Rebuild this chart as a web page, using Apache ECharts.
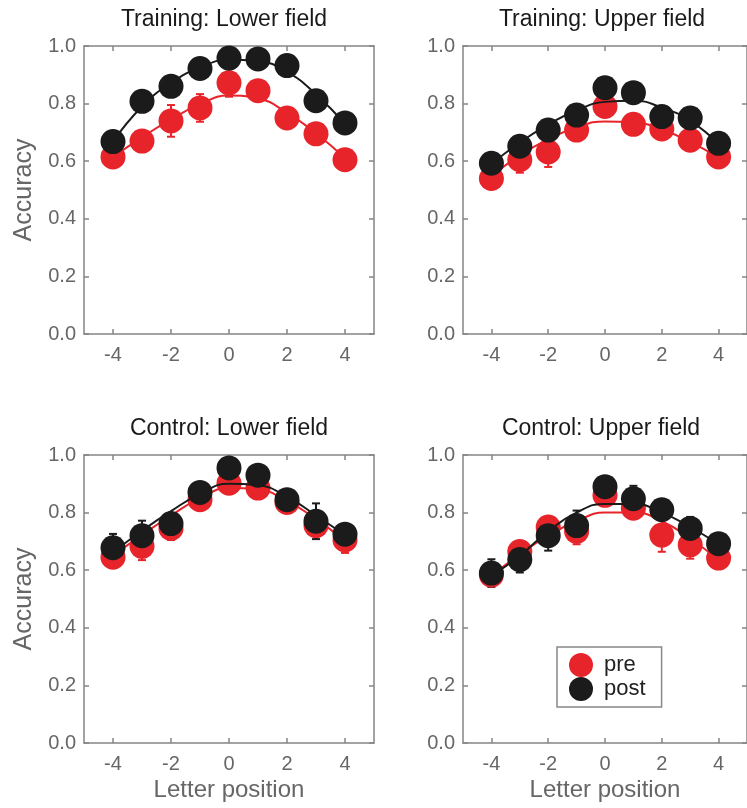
<!DOCTYPE html>
<html><head><meta charset="utf-8">
<script src="https://cdn.jsdelivr.net/npm/echarts@6/dist/echarts.min.js"></script>
<style>html,body{margin:0;padding:0;background:#fff}#c{width:747px;height:808px}</style>
</head><body><div id="c"></div>
<script>
const positions = [-4, -3, -2, -1, 0, 1, 2, 3, 4];
const xTicks = [-4, -2, 0, 2, 4];
const panelTitles = ['Training: Lower field', 'Training: Upper field', 'Control: Lower field', 'Control: Upper field'];

// Training: Lower field
const tlPre  = [0.615, 0.670, 0.740, 0.785, 0.872, 0.845, 0.750, 0.695, 0.605];
const tlPost = [0.668, 0.808, 0.860, 0.922, 0.958, 0.955, 0.932, 0.810, 0.733];
const tlPreErr  = [0.015, 0.020, 0.055, 0.048, 0.048, 0.015, 0.015, 0.015, 0.015];
const tlPostErr = [0.015, 0.015, 0.015, 0.015, 0.015, 0.015, 0.015, 0.035, 0.015];
const tlPreFit  = [0.615, 0.683, 0.745, 0.798, 0.828, 0.818, 0.768, 0.697, 0.610];
const tlPostFit = [0.668, 0.790, 0.872, 0.925, 0.952, 0.947, 0.910, 0.832, 0.730];

// Training: Upper field
const tuPre  = [0.540, 0.605, 0.632, 0.708, 0.790, 0.728, 0.712, 0.673, 0.615];
const tuPost = [0.593, 0.652, 0.708, 0.760, 0.855, 0.838, 0.755, 0.750, 0.662];
const tuPreErr  = [0.015, 0.045, 0.052, 0.015, 0.015, 0.015, 0.015, 0.015, 0.015];
const tuPostErr = [0.015, 0.015, 0.015, 0.015, 0.015, 0.015, 0.015, 0.015, 0.015];
const tuPreFit  = [0.548, 0.620, 0.676, 0.718, 0.738, 0.735, 0.710, 0.667, 0.612];
const tuPostFit = [0.590, 0.665, 0.727, 0.776, 0.806, 0.810, 0.786, 0.740, 0.660];

// Control: Lower field
const clPre  = [0.645, 0.683, 0.745, 0.845, 0.902, 0.885, 0.835, 0.755, 0.705];
const clPost = [0.678, 0.720, 0.762, 0.870, 0.955, 0.930, 0.845, 0.770, 0.725];
const clPreErr  = [0.020, 0.048, 0.040, 0.015, 0.015, 0.015, 0.015, 0.015, 0.045];
const clPostErr = [0.048, 0.052, 0.015, 0.015, 0.015, 0.015, 0.015, 0.062, 0.015];
const clPreFit  = [0.652, 0.722, 0.790, 0.850, 0.885, 0.880, 0.840, 0.778, 0.700];
const clPostFit = [0.662, 0.737, 0.805, 0.865, 0.900, 0.895, 0.855, 0.790, 0.722];

// Control: Upper field
const cuPre  = [0.583, 0.665, 0.750, 0.735, 0.860, 0.815, 0.722, 0.688, 0.642];
const cuPost = [0.590, 0.637, 0.720, 0.755, 0.890, 0.848, 0.810, 0.745, 0.692];
const cuPreErr  = [0.015, 0.015, 0.015, 0.045, 0.015, 0.015, 0.058, 0.048, 0.015];
const cuPostErr = [0.048, 0.045, 0.052, 0.052, 0.015, 0.045, 0.015, 0.040, 0.015];
const cuPreFit  = [0.580, 0.655, 0.720, 0.770, 0.800, 0.800, 0.770, 0.710, 0.635];
const cuPostFit = [0.580, 0.650, 0.735, 0.800, 0.830, 0.830, 0.800, 0.750, 0.690];

const yTickLabels = ['0.0', '0.2', '0.4', '0.6', '0.8', '1.0'];

const panels = [
  {pre: tlPre, post: tlPost, preErr: tlPreErr, postErr: tlPostErr, preFit: tlPreFit, postFit: tlPostFit},
  {pre: tuPre, post: tuPost, preErr: tuPreErr, postErr: tuPostErr, preFit: tuPreFit, postFit: tuPostFit},
  {pre: clPre, post: clPost, preErr: clPreErr, postErr: clPostErr, preFit: clPreFit, postFit: clPostFit},
  {pre: cuPre, post: cuPost, preErr: cuPreErr, postErr: cuPostErr, preFit: cuPreFit, postFit: cuPostFit}
];

const RED = '#e8242b', BLACK = '#1b1b1b', FRAME = '#858585', LABEL = '#666';
const FONT = 'Liberation Sans, Arial, sans-serif';
const gridPos = [
  {left: 84, top: 46, width: 290, height: 288},
  {left: 463, top: 46, width: 289, height: 288},
  {left: 84, top: 455, width: 290, height: 288},
  {left: 463, top: 455, width: 289, height: 288}
];
const titleCenters = [224, 602, 229, 601];

const chart = echarts.init(document.getElementById('c'), null, {renderer: 'canvas'});
const xAxes = [], yAxes = [], series = [], titles = [];
const lineStyleAx = {show: true, onZero: false, lineStyle: {color: FRAME, width: 1.5}};

function errSeries(i, vals, errs, color, name) {
  return {
    type: 'custom', name: name + 'err', xAxisIndex: 2 * i, yAxisIndex: 2 * i, z: 2,
    data: positions.map((p, k) => [p, vals[k] - errs[k], vals[k] + errs[k]]),
    encode: {x: 0, y: [1, 2]},
    renderItem: (params, api) => {
      const x = api.value(0), lo = api.value(1), hi = api.value(2);
      const a = api.coord([x, hi]), b = api.coord([x, lo]);
      const w = 4;
      const st = {stroke: color, lineWidth: 2};
      return {type: 'group', children: [
        {type: 'line', shape: {x1: a[0], y1: a[1], x2: b[0], y2: b[1]}, style: st},
        {type: 'line', shape: {x1: a[0] - w, y1: a[1], x2: a[0] + w, y2: a[1]}, style: st},
        {type: 'line', shape: {x1: b[0] - w, y1: b[1], x2: b[0] + w, y2: b[1]}, style: st}
      ]};
    }
  };
}

panels.forEach((pd, i) => {
  const g = gridPos[i];
  const bottomRow = i >= 2, leftCol = i % 2 === 0;
  titles.push({text: panelTitles[i], left: titleCenters[i], top: g.top - 38, textAlign: 'center', padding: 0,
    textStyle: {fontFamily: FONT, fontSize: 23, fontWeight: 'normal', color: '#1a1a1a'}});
  xAxes.push({
    gridIndex: i, type: 'value', min: -5, max: 5, position: 'bottom',
    axisLine: lineStyleAx, splitLine: {show: false},
    axisTick: {show: true, inside: true, length: 5, customValues: xTicks, lineStyle: {color: FRAME, width: 1.5}},
    axisLabel: {show: true, customValues: xTicks, color: LABEL, fontSize: 20, margin: 11, fontFamily: FONT},
    name: bottomRow ? 'Letter position' : '', nameLocation: 'middle', nameGap: 35,
    nameTextStyle: {fontSize: 24, color: LABEL, fontFamily: FONT}
  });
  xAxes.push({
    gridIndex: i, type: 'value', min: -5, max: 5, position: 'top',
    axisLine: lineStyleAx, splitLine: {show: false},
    axisTick: {show: true, inside: true, length: 5, customValues: xTicks, lineStyle: {color: FRAME, width: 1.5}},
    axisLabel: {show: false}
  });
  yAxes.push({
    gridIndex: i, type: 'value', min: 0, max: 1, interval: 0.2, position: 'left',
    axisLine: lineStyleAx, splitLine: {show: false},
    axisTick: {show: true, inside: true, length: 5, lineStyle: {color: FRAME, width: 1.5}},
    axisLabel: {color: LABEL, fontSize: 20, margin: 8, fontFamily: FONT,
      formatter: v => yTickLabels[Math.round(v * 5)]},
    name: leftCol ? 'Accuracy' : '', nameLocation: 'middle', nameGap: 47, nameRotate: 90,
    nameTextStyle: {fontSize: 25, color: LABEL, fontFamily: FONT}
  });
  yAxes.push({
    gridIndex: i, type: 'value', min: 0, max: 1, interval: 0.2, position: 'right',
    axisLine: lineStyleAx, splitLine: {show: false},
    axisTick: {show: true, inside: true, length: 5, lineStyle: {color: FRAME, width: 1.5}},
    axisLabel: {show: false}
  });
  series.push(errSeries(i, pd.pre, pd.preErr, RED, 'pre'));
  series.push({type: 'scatter', name: 'pre', xAxisIndex: 2 * i, yAxisIndex: 2 * i, z: 3,
    symbolSize: 25, itemStyle: {color: RED, opacity: 1}, data: positions.map((p, k) => [p, pd.pre[k]])});
  series.push({type: 'line', name: 'preFit', xAxisIndex: 2 * i, yAxisIndex: 2 * i, z: 4, smooth: true,
    showSymbol: false, symbol: 'none', lineStyle: {color: RED, width: 2}, data: positions.map((p, k) => [p, pd.preFit[k]])});
  series.push(errSeries(i, pd.post, pd.postErr, BLACK, 'post'));
  series.push({type: 'scatter', name: 'post', xAxisIndex: 2 * i, yAxisIndex: 2 * i, z: 5,
    symbolSize: 25, itemStyle: {color: BLACK, opacity: 1}, data: positions.map((p, k) => [p, pd.post[k]])});
  series.push({type: 'line', name: 'postFit', xAxisIndex: 2 * i, yAxisIndex: 2 * i, z: 6, smooth: true,
    showSymbol: false, symbol: 'none', lineStyle: {color: BLACK, width: 2}, data: positions.map((p, k) => [p, pd.postFit[k]])});
});

chart.setOption({
  animation: false,
  backgroundColor: '#fff',
  title: titles,
  grid: gridPos.map(g => Object.assign({containLabel: false}, g)),
  xAxis: xAxes,
  yAxis: yAxes,
  legend: {
    data: [{name: 'pre', icon: 'circle'}, {name: 'post', icon: 'circle'}],
    orient: 'vertical', left: 557, top: 647, itemWidth: 24, itemHeight: 24, itemGap: 0,
    borderColor: '#888', borderWidth: 1.5, borderRadius: 0, padding: [6, 16, 6, 12],
    textStyle: {fontSize: 22, color: '#222', fontFamily: FONT, padding: [0, 0, 2, 6]},
    selectedMode: false
  },
  series: series
});
</script>
</body></html>
